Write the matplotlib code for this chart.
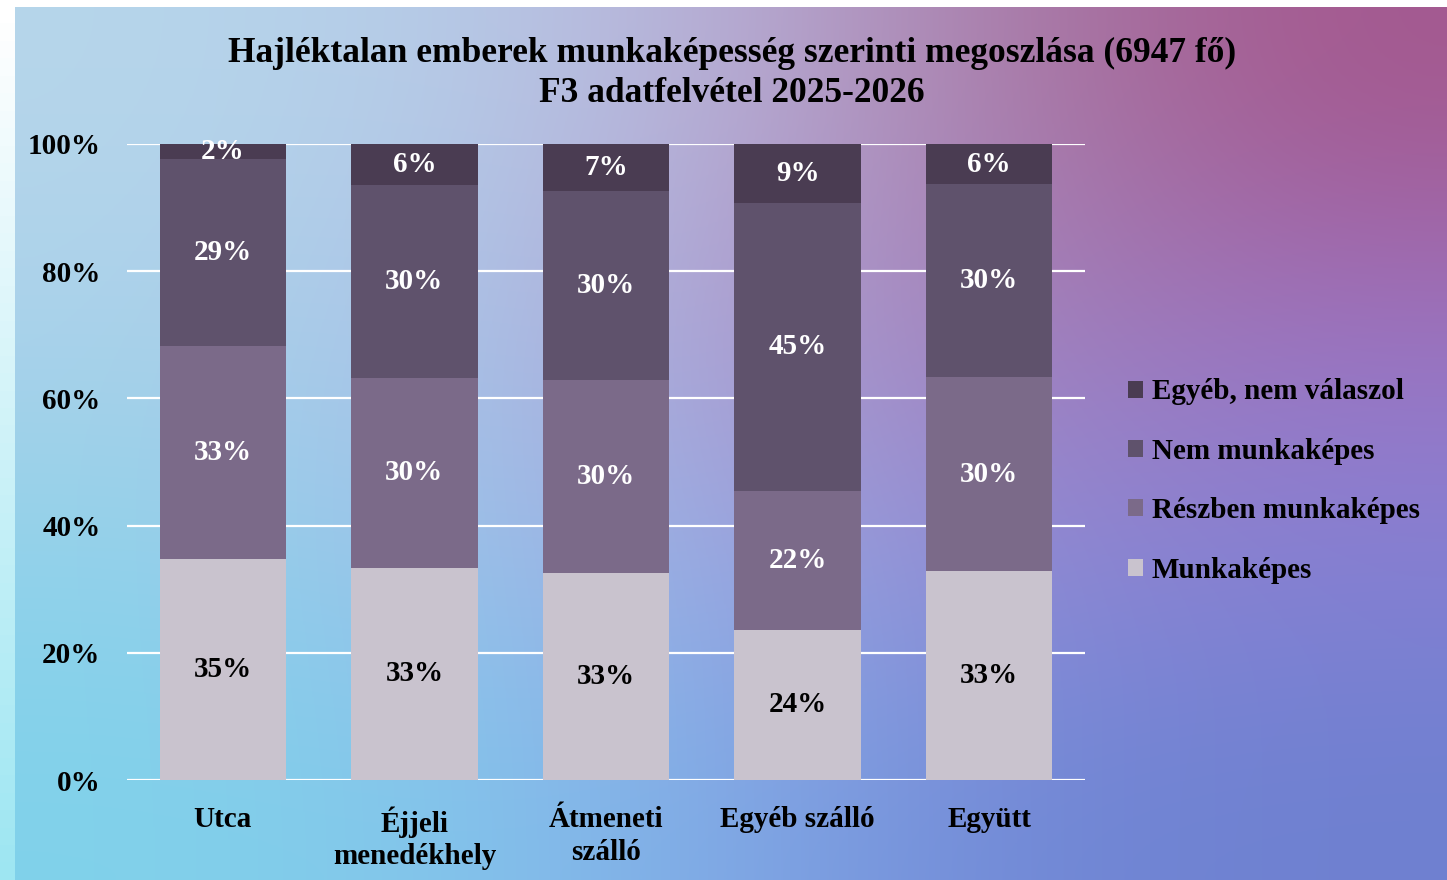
import numpy as np
import matplotlib
matplotlib.use("Agg")
import matplotlib.pyplot as plt
from matplotlib.colors import to_rgb

# Data (percent of each group)
categories = ["Utca", "Éjjeli\nmenedékhely", "Átmeneti\nszálló", "Egyéb szálló", "Együtt"]
munkakepes = [34.8, 33.4, 32.6, 23.6, 32.9]
reszben = [33.4, 29.8, 30.3, 21.8, 30.4]
nem_munkakepes = [29.4, 30.4, 29.7, 45.4, 30.4]
egyeb = [2.4, 6.4, 7.4, 9.2, 6.3]
series_names = ["Munkaképes", "Részben munkaképes", "Nem munkaképes", "Egyéb, nem válaszol"]
y_ticks = [0, 20, 40, 60, 80, 100]

colors = ["#C9C3CE", "#7B6A89", "#5F526C", "#4A3C52"]
label_colors = ["black", "white", "white", "white"]

plt.rcParams["font.family"] = ["Liberation Serif", "DejaVu Serif"]
plt.rcParams["font.weight"] = "bold"

fig = plt.figure(figsize=(14.47, 8.8), dpi=100)
fig.patch.set_facecolor("white")

# watercolor-ish background gradient
grid = [
    ["#B6D6EB", "#B6CCE8", "#B8AED6", "#A87AA6", "#A4588E"],
    ["#AAD2EA", "#AAC4E8", "#AE9CD0", "#A07EB8", "#9C74C2"],
    ["#92D2EA", "#9CC2EA", "#9CA8E2", "#9088D4", "#8680D4"],
    ["#80D2EA", "#82C6EC", "#80A8E6", "#7088D6", "#6E80D0"],
]
g = np.array([[to_rgb(c) for c in row] for row in grid])
bg_ax = fig.add_axes([14 / 1447, 0, 1 - 14 / 1447, 1 - 7 / 880])
bg_ax.imshow(g, aspect="auto", interpolation="bicubic", extent=[0, 1, 0, 1])
bg_ax.set_axis_off()

strip = np.linspace(0, 1, 50)[:, None] * np.array(to_rgb("#9EE6F2"))[None, :] + \
    (1 - np.linspace(0, 1, 50))[:, None] * np.array([1.0, 1.0, 1.0])[None, :]
strip_ax = fig.add_axes([0, 0, 14 / 1447, 1 - 7 / 880])
strip_ax.imshow(strip[:, None, :], aspect="auto", extent=[0, 1, 0, 1])
strip_ax.set_axis_off()

ax = fig.add_axes([127 / 1447, 1 - 780 / 880, (1085 - 127) / 1447, (780 - 144) / 880])
ax.patch.set_alpha(0)

x = np.arange(len(categories))
series = [munkakepes, reszben, nem_munkakepes, egyeb]
bottom = np.zeros(len(categories))
handles = []
for vals, name, col, lc in zip(series, series_names, colors, label_colors):
    vals = np.array(vals)
    bars = ax.bar(x, vals, 0.66, bottom=bottom, color=col, label=name, zorder=3)
    handles.append(bars)
    for xi, b, v in zip(x, bottom, vals):
        ax.text(xi, b + v / 2, f"{v:.0f}%", ha="center", va="center",
                color=lc, fontsize=21, fontweight="bold", zorder=4)
    bottom += vals

ax.set_xlim(-0.5, len(categories) - 0.5)
ax.set_ylim(0, 100)
ax.set_yticks(y_ticks)
ax.set_yticklabels([f"{t}%" for t in y_ticks])
ax.set_xticks(x)
ax.set_xticklabels(categories, linespacing=1.25)
ax.tick_params(axis="y", length=0, pad=19, labelsize=21)
ax.tick_params(axis="x", length=0, pad=19, labelsize=21)
ax.grid(axis="y", color="white", linewidth=1.6, zorder=0)
ax.set_axisbelow(True)
for s in ax.spines.values():
    s.set_visible(False)

fig.text(0.506, 1 - 37 / 880,
         "Hajléktalan emberek munkaképesség szerinti megoszlása (6947 fő)\nF3 adatfelvétel 2025-2026",
         ha="center", va="top", fontsize=25.5, fontweight="bold", linespacing=1.29)

fig.legend(handles[::-1], series_names[::-1], loc="center left",
           bbox_to_anchor=(1128 / 1447, 1 - 481 / 880), frameon=False,
           fontsize=21, handlelength=0.52, handleheight=0.52, handletextpad=0.3,
           labelspacing=1.11, borderpad=0, borderaxespad=0)

fig.savefig("out.png", dpi=100)
